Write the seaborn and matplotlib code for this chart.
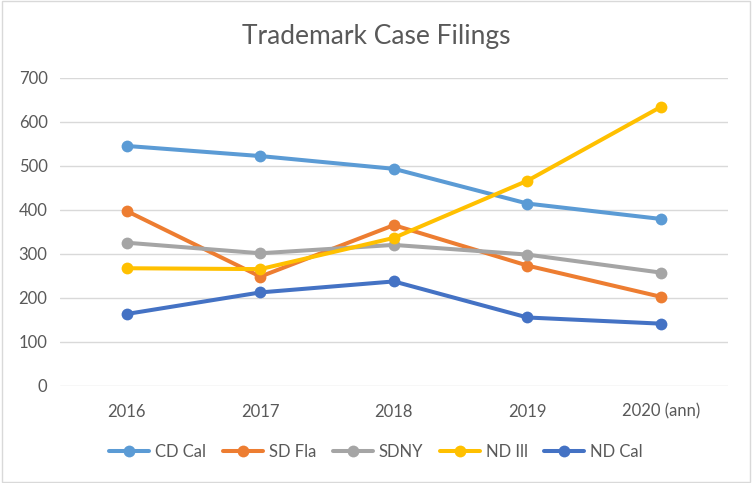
import matplotlib
matplotlib.use("Agg")
import matplotlib.pyplot as plt
import seaborn as sns
import pandas as pd

# values
years = ["2016", "2017", "2018", "2019", "2020 (ann)"]
cd_cal = [545, 522, 493, 414, 379]
sd_fla = [397, 248, 365, 273, 202]
sdny = [325, 301, 320, 298, 257]
nd_ill = [267, 265, 336, 466, 634]
nd_cal = [163, 212, 237, 155, 141]

series = {"CD Cal": cd_cal, "SD Fla": sd_fla, "SDNY": sdny, "ND Ill": nd_ill, "ND Cal": nd_cal}
colors = ["#5B9BD5", "#ED7D31", "#A5A5A5", "#FFC000", "#4472C4"]

rows = []
for name, vals in series.items():
    for yr, v in zip(years, vals):
        rows.append({"year": yr, "court": name, "filings": v})
df = pd.DataFrame(rows)

sns.set_style("white")
plt.rcParams['font.family'] = ['Lato', 'DejaVu Sans']
text_col = "#595959"

fig = plt.figure(figsize=(7.52, 4.83), dpi=100)
ax = fig.add_axes([0.0798, 0.2015, 0.888, 0.6375])
sns.lineplot(data=df, x="year", y="filings", hue="court", palette=colors,
             marker="o", markersize=8.5, markeredgewidth=0, linewidth=2.9,
             sort=False, ax=ax, legend=False)

ax.set_ylim(0, 700)
ax.set_xlim(-0.5, len(years) - 0.5)
ax.set_yticks(range(0, 701, 100))
ax.grid(axis="y", color="#D9D9D9", linewidth=1)
ax.set_axisbelow(True)
for s in ax.spines.values():
    s.set_visible(False)
ax.tick_params(length=0, colors=text_col, labelsize=12, pad=9)
ax.tick_params(axis="x", pad=13)
ax.set_xlabel("")
ax.set_ylabel("")

fig.text(0.5, 0.925, "Trademark Case Filings", ha="center", va="center",
         fontsize=19, color=text_col)

handles = [plt.Line2D([], [], color=c, marker="o", markersize=8.5, markeredgewidth=0, linewidth=2.9)
           for c in colors]
fig.legend(handles, list(series.keys()), loc="center", bbox_to_anchor=(0.5, 0.064),
           ncol=5, frameon=False, fontsize=12, handlelength=2.4, columnspacing=1.0,
           handletextpad=0.35, labelcolor=text_col)

fig.patches.append(matplotlib.patches.Rectangle((0.002, 0.003), 0.996, 0.994, transform=fig.transFigure,
                                                fill=False, edgecolor="#D9D9D9", linewidth=1))
fig.savefig("out.png", dpi=100)
